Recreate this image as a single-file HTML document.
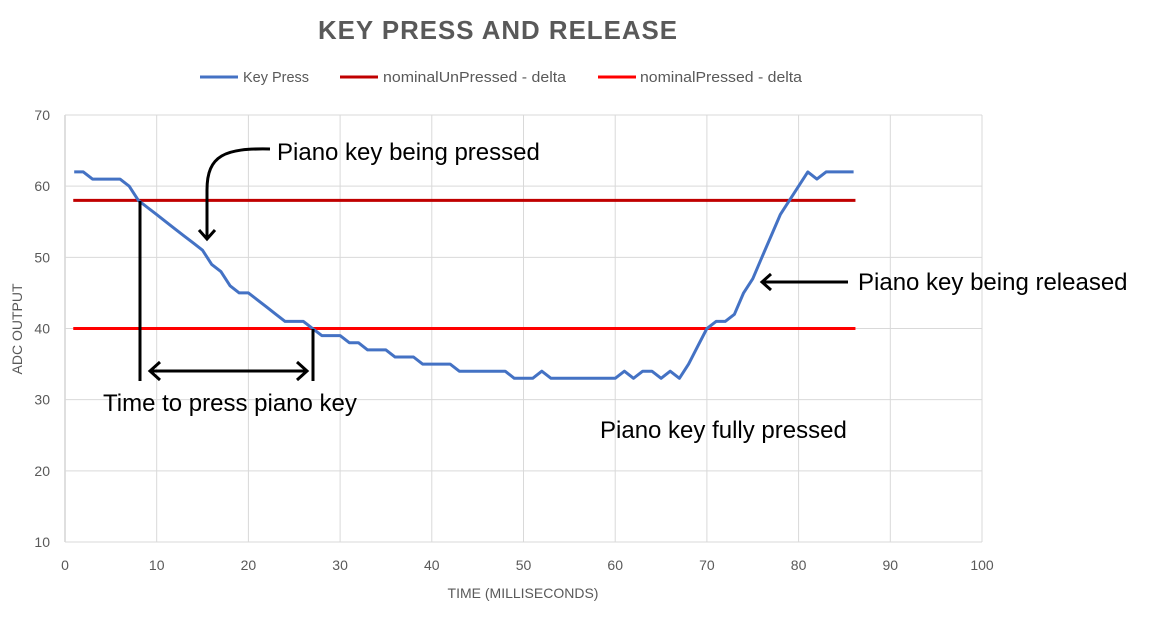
<!DOCTYPE html>
<html><head><meta charset="utf-8"><style>
body{margin:0;background:#fff;width:1149px;height:632px;overflow:hidden}
svg{font-family:"Liberation Sans",Arial,sans-serif}
</style></head><body>
<svg id="chart" width="1149" height="632" viewBox="0 0 1149 632">
<text x="498" y="39" text-anchor="middle" font-size="26" font-weight="bold" fill="#595959" letter-spacing="1" textLength="360" lengthAdjust="spacingAndGlyphs">KEY PRESS AND RELEASE</text>
<g font-size="15" fill="#595959">
<g><line x1="200" y1="77" x2="238" y2="77" stroke="#4472C4" stroke-width="3"/><text x="243" y="82" textLength="66" lengthAdjust="spacingAndGlyphs">Key Press</text></g>
<g><line x1="340" y1="77" x2="378" y2="77" stroke="#C00000" stroke-width="3"/><text x="383" y="82" textLength="183" lengthAdjust="spacingAndGlyphs">nominalUnPressed - delta</text></g>
<g><line x1="598" y1="77" x2="636" y2="77" stroke="#FF0000" stroke-width="3"/><text x="640" y="82" textLength="162" lengthAdjust="spacingAndGlyphs">nominalPressed - delta</text></g>
</g>
<g id="grid"></g>
<g id="axes"></g>
<g id="series"></g>
<text x="523" y="598" text-anchor="middle" font-size="14" fill="#595959">TIME (MILLISECONDS)</text>
<text transform="translate(22,329) rotate(-90)" text-anchor="middle" font-size="14" fill="#595959">ADC OUTPUT</text>
<g stroke="#000" stroke-width="3" fill="none">
<line x1="140" y1="201" x2="140" y2="381"/>
<line x1="313" y1="329" x2="313" y2="381"/>
<line x1="151" y1="371" x2="306" y2="371"/>
<polyline points="160,362 150,371 160,380"/>
<polyline points="297,362 307,371 297,380"/>
<path d="M270,149 C225,148 207,155 207,190 L207,239"/>
<polyline points="199,230 207,239 215,230"/>
<line x1="848" y1="282" x2="762" y2="282"/>
<polyline points="771,274 762,282 771,290"/>
</g>
<g font-size="24" fill="#000">
<text x="277" y="160">Piano key being pressed</text>
<text x="103" y="411">Time to press piano key</text>
<text x="858" y="290">Piano key being released</text>
<text x="600" y="438">Piano key fully pressed</text>
</g>
</svg>
<script>
const times = [];
for (let t = 1; t <= 86; t++) times.push(t);
const keyPress = [62,62,61,61,61,61,60,58,57,56,55,54,53,52,51,49,48,46,45,45,44,43,42,41,41,41,40,39,39,39,38,38,37,37,37,36,36,36,35,35,35,35,34,34,34,34,34,34,33,33,33,34,33,33,33,33,33,33,33,33,34,33,34,34,33,34,33,35,37.5,40,41,41,42,45,47,50,53,56,58,60,62,61,62,62,62,62];
const nominalUnPressed = 58;
const nominalPressed = 40;
const lineRange = [0.9, 86.2];
const xTicks = [0,10,20,30,40,50,60,70,80,90,100];
const yTicks = [10,20,30,40,50,60,70];

const L=65,R=982,T=115,B=542;
const xs=v=>L+(v-0)/(100-0)*(R-L);
const ys=v=>B-(v-10)/(70-10)*(B-T);
const NS="http://www.w3.org/2000/svg";
function mk(tag,attrs,parent){const e=document.createElementNS(NS,tag);for(const k in attrs)e.setAttribute(k,attrs[k]);parent.appendChild(e);return e;}
const grid=document.getElementById('grid'),axes=document.getElementById('axes'),series=document.getElementById('series');
xTicks.forEach(v=>{
  const g=mk('line',{x1:xs(v),x2:xs(v),y1:T,y2:B,stroke:v===0?'#BFBFBF':'#D9D9D9','stroke-width':1},grid);
  
  
  const t=mk('text',{x:xs(v),y:B+28,'text-anchor':'middle','font-size':14,fill:'#595959'},axes);
  t.textContent=v;
  
  
});
yTicks.forEach(v=>{
  const g=mk('line',{x1:L,x2:R,y1:ys(v),y2:ys(v),stroke:'#D9D9D9','stroke-width':1},grid);
  
  
  const t=mk('text',{x:L-15,y:ys(v)+5,'text-anchor':'end','font-size':14,fill:'#595959'},axes);
  t.textContent=v;
  
  
});
const l1=mk('line',{x1:xs(lineRange[0]),x2:xs(lineRange[1]),y1:ys(nominalUnPressed),y2:ys(nominalUnPressed),stroke:'#C00000','stroke-width':3},series);


const l2=mk('line',{x1:xs(lineRange[0]),x2:xs(lineRange[1]),y1:ys(nominalPressed),y2:ys(nominalPressed),stroke:'#FF0000','stroke-width':3},series);


const pts=times.map((t,i)=>xs(t).toFixed(1)+','+ys(keyPress[i]).toFixed(1)).join(' ');
const kp=mk('polyline',{points:pts,fill:'none',stroke:'#4472C4','stroke-width':3,'stroke-linejoin':'round'},series);


</script>
</body></html>
